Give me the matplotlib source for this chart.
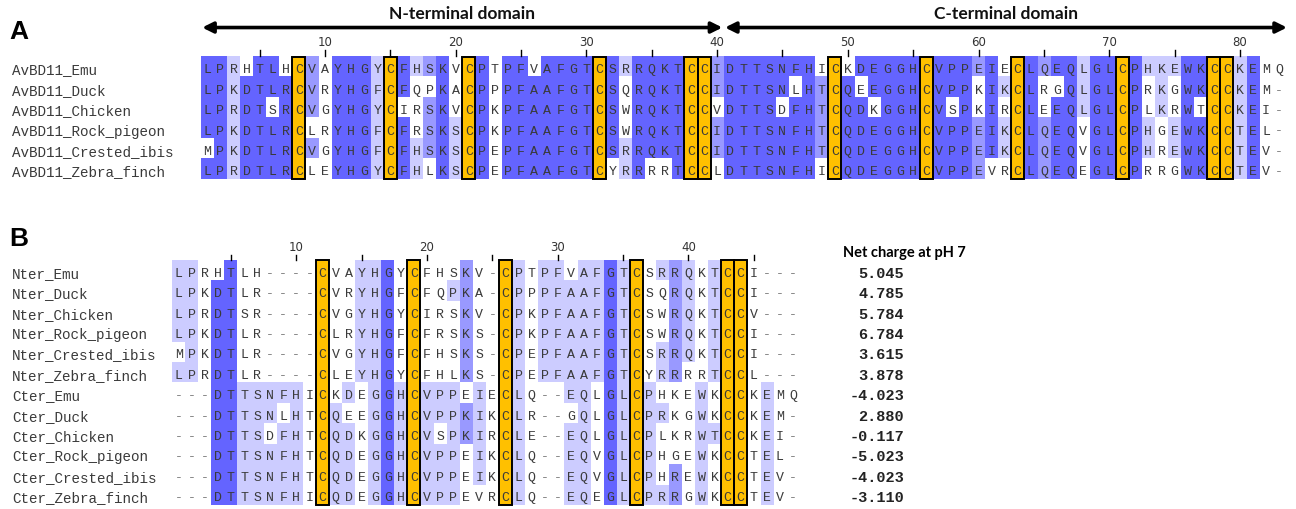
import matplotlib
matplotlib.use('Agg')
import matplotlib.pyplot as plt
import numpy as np
from collections import Counter
from matplotlib.colors import to_rgba

# alignment data
names_a = ['AvBD11_Emu', 'AvBD11_Duck', 'AvBD11_Chicken',
           'AvBD11_Rock_pigeon', 'AvBD11_Crested_ibis', 'AvBD11_Zebra_finch']
seqs_a = [
    'LPRHTLHCVAYHGYCFHSKVCPTPFVAFGTCSRRQKTCCIDTTSNFHICKDEGGHCVPPEIECLQEQLGLCPHKEWKCCKEMQ',
    'LPKDTLRCVRYHGFCFQPKACPPPFAAFGTCSQRQKTCCIDTTSNLHTCQEEGGHCVPPKIKCLRGQLGLCPRKGWKCCKEM-',
    'LPRDTSRCVGYHGYCIRSKVCPKPFAAFGTCSWRQKTCCVDTTSDFHTCQDKGGHCVSPKIRCLEEQLGLCPLKRWTCCKEI-',
    'LPKDTLRCLRYHGFCFRSKSCPKPFAAFGTCSWRQKTCCIDTTSNFHTCQDEGGHCVPPEIKCLQEQVGLCPHGEWKCCTEL-',
    'MPKDTLRCVGYHGFCFHSKSCPEPFAAFGTCSRRQKTCCIDTTSNFHTCQDEGGHCVPPEIKCLQEQVGLCPHREWKCCTEV-',
    'LPRDTLRCLEYHGYCFHLKSCPEPFAAFGTCYRRRRTCCLDTTSNFHICQDEGGHCVPPEVRCLQEQEGLCPRRGWKCCTEV-',
]
domains = ['N-terminal domain', 'C-terminal domain']
domain_end = 40  # last column of the N-terminal domain

names_b = ['Nter_Emu', 'Nter_Duck', 'Nter_Chicken', 'Nter_Rock_pigeon',
           'Nter_Crested_ibis', 'Nter_Zebra_finch',
           'Cter_Emu', 'Cter_Duck', 'Cter_Chicken', 'Cter_Rock_pigeon',
           'Cter_Crested_ibis', 'Cter_Zebra_finch']
seqs_b = [
    'LPRHTLH----CVAYHGYCFHSKV-CPTPFVAFGTCSRRQKTCCI---',
    'LPKDTLR----CVRYHGFCFQPKA-CPPPFAAFGTCSQRQKTCCI---',
    'LPRDTSR----CVGYHGYCIRSKV-CPKPFAAFGTCSWRQKTCCV---',
    'LPKDTLR----CLRYHGFCFRSKS-CPKPFAAFGTCSWRQKTCCI---',
    'MPKDTLR----CVGYHGFCFHSKS-CPEPFAAFGTCSRRQKTCCI---',
    'LPRDTLR----CLEYHGYCFHLKS-CPEPFAAFGTCYRRRRTCCL---',
    '---DTTSNFHICKDEGGHCVPPEIECLQ--EQLGLCPHKEWKCCKEMQ',
    '---DTTSNLHTCQEEGGHCVPPKIKCLR--GQLGLCPRKGWKCCKEM-',
    '---DTTSDFHTCQDKGGHCVSPKIRCLE--EQLGLCPLKRWTCCKEI-',
    '---DTTSNFHTCQDEGGHCVPPEIKCLQ--EQVGLCPHGEWKCCTEL-',
    '---DTTSNFHTCQDEGGHCVPPEIKCLQ--EQVGLCPHREWKCCTEV-',
    '---DTTSNFHICQDEGGHCVPPEVRCLQ--EQEGLCPRRGWKCCTEV-',
]
net_charge = [5.045, 4.785, 5.784, 6.784, 3.615, 3.878,
              -4.023, 2.880, -0.117, -5.023, -4.023, -3.110]

W, H = 1296, 509
DX, DY = 13.07, 20.4
DARK, MID, LIGHT = '#6464FF', '#9999FF', '#CCCCFF'
CYS = '#FFC000'
MONO = 'Liberation Mono'

fig = plt.figure(figsize=(W / 100, H / 100), dpi=100)


def pid_colours(seqs):
    # percentage identity shading, gaps counted in the denominator
    n, m = len(seqs), len(seqs[0])
    img = np.ones((n, m, 4))
    for j in range(m):
        col = [s[j] for s in seqs]
        if all(c == 'C' for c in col):
            img[:, j] = to_rgba(CYS)
            continue
        cnt = Counter(c for c in col if c != '-')
        top = max(cnt.values())
        pct = 100 * top / n
        if pct > 80:
            colour = DARK
        elif pct > 60:
            colour = MID
        elif pct > 40:
            colour = LIGHT
        else:
            continue
        for i, c in enumerate(col):
            if c != '-' and cnt[c] == top:
                img[i, j] = to_rgba(colour)
    return img


def draw_alignment(names, seqs, x1, y1, tick_y, label_y):
    ax = fig.add_axes([0, 0, 1, 1])
    nrow, ncol = len(seqs), len(seqs[0])
    ax.imshow(pid_colours(seqs), extent=(0.5, ncol + 0.5, nrow - 0.5, -0.5),
              interpolation='nearest', aspect='auto')
    ax.set_xlim(1 - x1 / DX, 1 + (W - x1) / DX)
    ax.set_ylim((H - y1) / DY, -y1 / DY)
    ax.axis('off')
    for i, (name, s) in enumerate(zip(names, seqs)):
        ax.text(1 + (12 - x1) / DX, i + 0.18, name, ha='left', va='center',
                family=MONO, fontsize=10.3, color='#3a3a3a')
        for j, c in enumerate(s):
            ax.text(j + 1, i + 0.18, c, ha='center', va='center', family=MONO,
                    fontsize=9.5, color='#777777' if c == '-' else '#3a3a3a')
    for j in range(ncol):
        if all(s[j] == 'C' for s in seqs):
            ax.add_patch(plt.Rectangle((j + 0.5, -0.5), 1, nrow, fill=False,
                                       ec='black', lw=1.4, zorder=3))
    for k in range(5, ncol + 1, 5):
        ax.plot([k, k], [tick_y, -0.5], color='black', lw=1)
        if k % 10 == 0:
            ax.text(k, label_y, str(k), ha='center', va='center',
                    fontsize=8.5, color='#333333')
    return ax


axA = draw_alignment(names_a, seqs_a, 207.4, 66.7, -0.82, -1.2)
axB = draw_alignment(names_b, seqs_b, 178.7, 270.2, -0.75, -1.12)

# domain arrows over panel A
ncol_a = len(seqs_a[0])
spans = [(0.6, domain_end + 0.4), (domain_end + 0.6, ncol_a + 0.6)]
for label, (a, b) in zip(domains, spans):
    axA.annotate('', xy=(b, -1.92), xytext=(a, -1.92),
                 arrowprops=dict(arrowstyle='<|-|>', lw=2.6, color='black',
                                 mutation_scale=16, shrinkA=0, shrinkB=0))
    axA.text((a + b) / 2, -2.6, label, ha='center', va='center',
             family='Lato', fontweight='bold', fontsize=12.5, color='#111111')

# net charge column next to panel B
axB.text(1 + (843 - 178.7) / DX, -0.84, 'Net charge at pH 7', ha='left',
         va='center', family='Lato', fontweight='bold', fontsize=10.5)
for i, v in enumerate(net_charge):
    axB.text(1 + (904 - 178.7) / DX, i + 0.18, f'{v:.3f}', ha='right',
             va='center', family=MONO, fontweight='bold', fontsize=11,
             color='#222222')

fig.text(9 / W, 1 - 32 / H, 'A', ha='left', va='center', family='Liberation Sans',
         fontweight='bold', fontsize=19)
fig.text(9 / W, 1 - 239 / H, 'B', ha='left', va='center', family='Liberation Sans',
         fontweight='bold', fontsize=19)

fig.savefig('out.png', dpi=100)
